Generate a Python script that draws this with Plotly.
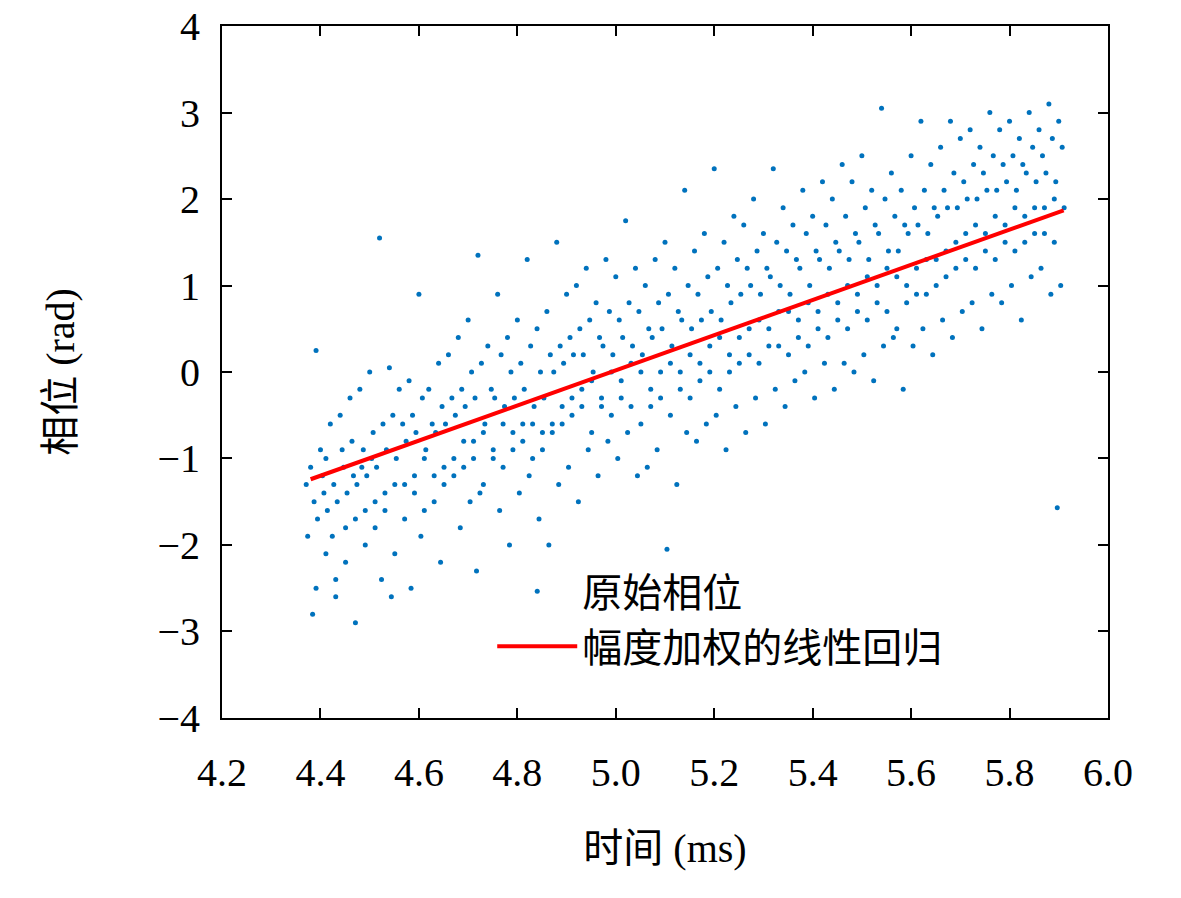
import plotly.graph_objects as go

# raw phase samples (time in ms -> phases in rad)
col_t = [4.38, 4.40, 4.42, 4.44, 4.46, 4.48, 4.50, 4.52, 4.54, 4.56, 4.58, 4.60, 4.62, 4.64, 4.66,
         4.68, 4.70, 4.72, 4.74, 4.76, 4.78, 4.80, 4.82, 4.84, 4.86, 4.88, 4.90, 4.92, 4.94, 4.96,
         4.98, 5.00, 5.02, 5.04, 5.06, 5.08, 5.10, 5.12, 5.14, 5.16, 5.18, 5.20, 5.22, 5.24, 5.26,
         5.28, 5.30, 5.32, 5.34, 5.36, 5.38, 5.40, 5.42, 5.44, 5.46, 5.48, 5.50, 5.52, 5.54, 5.56,
         5.58, 5.60, 5.62, 5.64, 5.66, 5.68, 5.70, 5.72, 5.74, 5.76, 5.78, 5.80, 5.82, 5.84, 5.86,
         5.88, 5.90]
# small time offsets of the samples inside each column (ms)
col_offset = [0.0, 0.007, -0.006, 0.011, -0.009, 0.004, -0.003]
col_phase = [
    [-1.1, -1.5, -1.9, -2.5, -1.3, -2.8], [-0.9, -1.4, -1.7, -2.1, 0.25, -1.2],
    [-0.6, -1.3, -1.6, -2.4, -1.0, -1.9], [-0.5, -1.1, -1.5, -1.8, -2.6, -0.9],
    [-0.3, -1.2, -1.4, -1.7, -2.2, -0.8], [-0.2, -0.9, -1.3, -1.6, -2.9, -1.1],
    [0.0, -0.7, -1.2, -1.5, -2.0, -1.0], [1.55, -0.6, -1.1, -1.4, -1.8, -2.4],
    [0.05, -0.5, -0.9, -1.3, -1.6, -2.6], [-0.2, -0.6, -1.0, -1.3, -2.1],
    [-0.1, -0.5, -0.8, -1.2, -1.7, -2.5], [0.9, -0.3, -0.7, -1.0, -1.4, -1.9],
    [-0.2, -0.6, -0.9, -1.2, -1.6], [0.1, -0.4, -0.7, -1.1, -1.5, -2.2],
    [0.2, -0.3, -0.6, -1.0, -1.3], [0.4, -0.2, -0.5, -0.8, -1.2, -1.8],
    [0.6, 0.0, -0.4, -0.8, -1.1, -1.5], [1.35, 0.1, -0.3, -0.7, -1.0, -1.4, -2.3],
    [0.3, -0.2, -0.6, -0.9, -1.3], [0.9, 0.2, -0.3, -0.6, -1.0, -1.6],
    [0.4, 0.0, -0.4, -0.7, -1.1, -2.0], [0.6, 0.1, -0.3, -0.6, -0.9, -1.4],
    [1.3, 0.3, -0.2, -0.6, -0.8, -1.2], [0.5, 0.0, -0.4, -0.7, -1.0, -1.7],
    [0.7, 0.2, -0.3, -0.6, -0.9, -2.0], [1.5, 0.3, 0.0, -0.4, -0.7, -1.3],
    [0.9, 0.4, 0.1, -0.3, -0.6, -1.1], [1.0, 0.5, 0.2, -0.2, -0.5, -1.5],
    [1.2, 0.6, 0.2, -0.1, -0.4, -0.9], [0.8, 0.4, 0.0, -0.3, -0.7, -1.2],
    [1.3, 0.7, 0.3, 0.0, -0.4, -0.8], [1.1, 0.6, 0.2, -0.1, -0.5, -1.0],
    [1.75, 0.8, 0.4, 0.1, -0.3, -0.7], [1.2, 0.7, 0.3, 0.0, -0.4, -1.2],
    [1.0, 0.5, 0.2, -0.2, -0.6, -1.1], [1.3, 0.8, 0.4, 0.0, -0.4, -0.9],
    [1.5, 0.9, 0.5, 0.1, -0.3, -2.05], [1.2, 0.7, 0.3, 0.0, -0.5, -1.3],
    [2.1, 1.0, 0.6, 0.2, -0.2, -0.7], [1.4, 0.9, 0.5, 0.1, -0.3, -0.8],
    [1.6, 1.1, 0.6, 0.3, -0.1, -0.6], [2.35, 1.2, 0.7, 0.4, 0.0, -0.5],
    [1.5, 1.0, 0.6, 0.2, -0.2, -0.9], [1.8, 1.3, 0.8, 0.4, 0.0, -0.4],
    [1.7, 1.2, 0.9, 0.5, 0.1, -0.7], [2.0, 1.4, 1.0, 0.6, 0.2, -0.3],
    [1.6, 1.2, 0.9, 0.5, 0.1, -0.6], [2.35, 1.5, 1.1, 0.7, 0.3, -0.2],
    [1.9, 1.4, 1.0, 0.7, 0.3, -0.4], [1.7, 1.3, 0.9, 0.6, 0.2, -0.1],
    [2.1, 1.6, 1.2, 0.8, 0.4, 0.0], [1.8, 1.4, 1.0, 0.7, 0.3, -0.3],
    [2.2, 1.7, 1.3, 0.9, 0.5, 0.1], [2.0, 1.5, 1.2, 0.8, 0.4, -0.2],
    [2.4, 1.8, 1.4, 1.0, 0.6, 0.1], [2.2, 1.6, 1.3, 0.9, 0.5, 0.0],
    [2.5, 1.9, 1.5, 1.1, 0.7, 0.2], [2.1, 1.7, 1.3, 1.0, 0.6, -0.1],
    [3.05, 2.0, 1.6, 1.2, 0.8, 0.3], [2.3, 1.8, 1.4, 1.1, 0.7, 0.4],
    [2.1, 1.7, 1.4, 1.0, 0.5, -0.2], [2.5, 1.9, 1.6, 1.2, 0.8, 0.3],
    [2.9, 2.1, 1.7, 1.3, 0.9, 0.5], [2.4, 1.9, 1.6, 1.3, 0.9, 0.2],
    [2.6, 2.1, 1.8, 1.4, 1.0, 0.6], [2.9, 2.3, 1.9, 1.5, 1.1, 0.4],
    [2.7, 2.2, 1.9, 1.6, 1.2, 0.7], [2.8, 2.4, 2.0, 1.7, 1.3, 0.8],
    [2.6, 2.3, 2.0, 1.6, 1.2, 0.5], [3.0, 2.5, 2.1, 1.8, 1.4, 0.9],
    [2.8, 2.4, 2.1, 1.7, 1.3, 0.8], [2.9, 2.5, 2.2, 1.9, 1.5, 1.0],
    [2.7, 2.4, 2.1, 1.8, 1.4, 0.6], [3.0, 2.6, 2.3, 1.9, 1.5, 1.1],
    [2.8, 2.5, 2.2, 1.9, 1.6, 1.2], [3.1, 2.7, 2.3, 2.0, 1.6, 0.9],
    [2.9, 2.6, 2.2, 1.9, 1.5, 1.0, -1.57],
]

# weighted linear fit endpoints
fit_t = [4.38, 5.91]
fit_phase = [-1.24, 1.87]

x_ticks = [4.2, 4.4, 4.6, 4.8, 5.0, 5.2, 5.4, 5.6, 5.8, 6.0]
y_ticks = [-4, -3, -2, -1, 0, 1, 2, 3, 4]

pts_x, pts_y = [], []
for t, ys in zip(col_t, col_phase):
    for i, y in enumerate(ys):
        pts_x.append(t + col_offset[i])
        pts_y.append(y)

FONT = "Liberation Serif, Noto Sans CJK SC, serif"

fig = go.Figure()
fig.add_trace(go.Scatter(x=pts_x, y=pts_y, mode="markers", name="原始相位",
                         marker=dict(color="#0072bd", size=5)))
fig.add_trace(go.Scatter(x=fit_t, y=fit_phase, mode="lines", name="幅度加权的线性回归",
                         line=dict(color="#ff0000", width=4)))

axis_common = dict(showgrid=False, zeroline=False, showline=True, mirror="ticks",
                   linecolor="black", linewidth=2, ticks="inside", ticklen=10,
                   tickwidth=2, tickcolor="black", automargin=False,
                   ticklabeloverflow="allow", tickfont=dict(size=40, family=FONT))
fig.update_xaxes(range=[4.1999, 6.0001], tickvals=x_ticks, tickformat=".1f", ticklabelstandoff=18,
                 title=dict(text="时间 (ms)", font=dict(size=40, family=FONT), standoff=40),
                 **axis_common)
fig.update_yaxes(range=[-4.0005, 4.0005], tickvals=y_ticks, ticklabelstandoff=12,
                 title=dict(text="相位 (rad)", font=dict(size=40, family=FONT), standoff=70),
                 **axis_common)

fig.update_layout(
    width=1181, height=898, plot_bgcolor="white", paper_bgcolor="white",
    margin=dict(l=214, r=81, t=18, b=188),
    font=dict(family=FONT, color="black"),
    legend=dict(x=0.305, y=0.23, xanchor="left", yanchor="top", bgcolor="rgba(0,0,0,0)",
                font=dict(size=40, family=FONT), itemwidth=80, tracegroupgap=0),
)

fig.write_html("out.html")
